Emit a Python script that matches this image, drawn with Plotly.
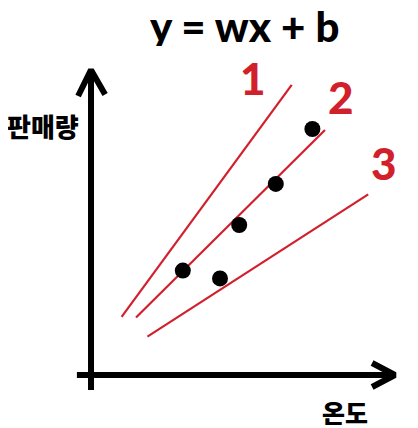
import plotly.graph_objects as go

# data (temperature vs sales, arbitrary units)
point_x = [3.06, 4.30, 4.94, 6.16, 7.38]
point_y = [3.48, 3.22, 5.00, 6.37, 8.20]

line_names = ["1", "2", "3"]
line_w = [1.363, 0.992, 0.644]
line_b = [0.55, 0.43, 0.07]
line_x_start = [1.02, 1.50, 1.88]
line_x_end = [6.69, 7.80, 9.24]
label_x = [5.40, 8.33, 9.77]
label_y = [9.90, 9.27, 7.07]

title_text = "y = wx + b"
x_label = "온도"
y_label = "판매량"

RED = "#d21f2c"
fig = go.Figure()

# axes drawn as thick arrows
fig.add_trace(go.Scatter(x=[0, 0], y=[-0.5, 10.1], mode="lines",
                         line=dict(color="black", width=6), hoverinfo="skip"))
fig.add_trace(go.Scatter(x=[-0.43, 0, 0.47], y=[9.3, 10.17, 9.35], mode="lines",
                         line=dict(color="black", width=6), hoverinfo="skip"))
fig.add_trace(go.Scatter(x=[-0.47, 10.05], y=[0, 0], mode="lines",
                         line=dict(color="black", width=6), hoverinfo="skip"))
fig.add_trace(go.Scatter(x=[9.37, 10.13, 9.37], y=[0.4, 0, -0.4], mode="lines",
                         line=dict(color="black", width=6), hoverinfo="skip"))

# candidate lines y = wx + b
for name, w, b, xs, xe, lx, ly in zip(line_names, line_w, line_b, line_x_start,
                                       line_x_end, label_x, label_y):
    fig.add_trace(go.Scatter(x=[xs, xe], y=[w * xs + b, w * xe + b], mode="lines",
                             line=dict(color=RED, width=2.2), hoverinfo="skip"))
    fig.add_annotation(x=lx, y=ly, text=name, showarrow=False,
                       font=dict(family="Lato", size=44, color=RED, weight=900))

fig.add_trace(go.Scatter(x=point_x, y=point_y, mode="markers",
                         marker=dict(color="black", size=16)))

fig.add_annotation(x=5.1, y=11.62, text=title_text, showarrow=False,
                   height=40, borderpad=0,
                   font=dict(family="Lato", size=42, color="black", weight=900))
fig.add_annotation(x=-1.6, y=8.33, text=y_label, showarrow=False,
                   font=dict(family="Noto Sans CJK KR", size=26, color="black", weight=900))
fig.add_annotation(x=8.47, y=-1.23, text=x_label, showarrow=False,
                   height=26, borderpad=0,
                   font=dict(family="Noto Sans CJK KR", size=25, color="black", weight=900))

fig.update_layout(
    width=410, height=420, margin=dict(l=0, r=0, t=0, b=0),
    paper_bgcolor="white", plot_bgcolor="white", showlegend=False,
    xaxis=dict(range=[-2.767, 10.9], visible=False),
    yaxis=dict(range=[-1.767, 12.233], visible=False),
)
fig.write_html("out.html")
